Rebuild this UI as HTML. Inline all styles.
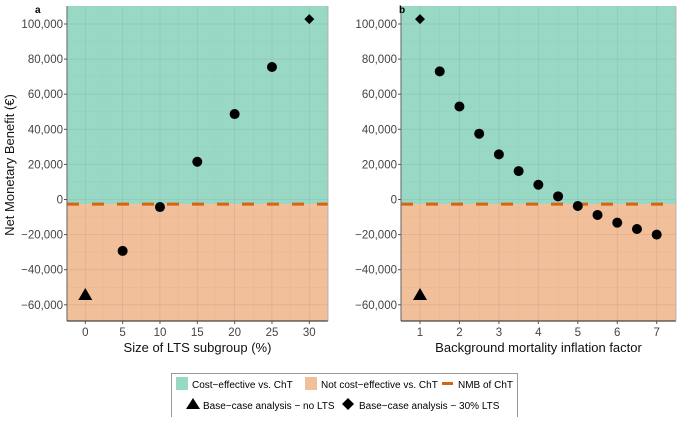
<!DOCTYPE html>
<html><head><meta charset="utf-8"><style>
body{margin:0;background:#fff;width:677px;height:417px;overflow:hidden}
svg{font-family:"Liberation Sans",sans-serif}
</style></head><body>
<svg id="c" width="677" height="417"></svg>
<script>
const ticksY=[100000,80000,60000,40000,20000,0,-20000,-40000,-60000];
const ticksXA=[0,5,10,15,20,25,30];
const ticksXB=[1,2,3,4,5,6,7];
const nmbChT=-2600;
const aX=[5,10,15,20,25];
const aY=[-29300,-4300,21500,48700,75500];
const bX=[1.5,2,2.5,3,3.5,4,4.5,5,5.5,6,6.5,7];
const bY=[73000,53000,37500,25700,16200,8400,1800,-3700,-8800,-13200,-16800,-20000];
const noLTS=-55000;
const lts30=102800;
const NS="http://www.w3.org/2000/svg";
const svg=document.getElementById('c');
function el(t,a,p){const e=document.createElementNS(NS,t);for(const k in a)e.setAttribute(k,a[k]);(p||svg).appendChild(e);return e;}
const yS=v=>199.5-v/20000*35.1;
const yTop=6,yBot=321;
function panel(name,x0,x1,sx,ticksX,lbl,title,pts,triX,diaX,lx){
  const g=el('g',{});
  
  
  const yb=yS(nmbChT);
  el('rect',{x:x0,y:yTop,width:x1-x0,height:yb-yTop,fill:'#98d8c4'},g);
  el('rect',{x:x0,y:yb,width:x1-x0,height:yBot-yb,fill:'#f1bf99'},g);
  for(const v of ticksY){el('line',{x1:x0,x2:x1,y1:yS(v),y2:yS(v),stroke:'#000',"stroke-opacity":0.07,"stroke-width":0.8},g);}
  for(let i=0;i<ticksY.length-1;i++){const v=(ticksY[i]+ticksY[i+1])/2;el('line',{x1:x0,x2:x1,y1:yS(v),y2:yS(v),stroke:'#000',"stroke-opacity":0.04,"stroke-width":0.5},g);}
  for(const t of ticksX){el('line',{x1:sx(t),x2:sx(t),y1:yTop,y2:yBot,stroke:'#000',"stroke-opacity":0.07,"stroke-width":0.8},g);}
  const step=ticksX[1]-ticksX[0];
  for(const t of ticksX){const m=t+step/2;if(sx(m)<x1)el('line',{x1:sx(m),x2:sx(m),y1:yTop,y2:yBot,stroke:'#000',"stroke-opacity":0.04,"stroke-width":0.5},g);}
  const d=el('line',{x1:x0,x2:x1,y1:yb,y2:yb,stroke:'#d5650f',"stroke-width":3,"stroke-dasharray":"12,13"},g);
  
  el('line',{x1:x0,x2:x0,y1:yTop,y2:yBot,stroke:'#777',"stroke-width":1.2},g);
  el('line',{x1:x0,x2:x1,y1:yBot,y2:yBot,stroke:'#444',"stroke-width":1.2},g);
  el('line',{x1:x1,x2:x1,y1:yTop,y2:yBot,stroke:'#aaa',"stroke-width":0.8},g);
  for(const v of ticksY){
    el('line',{x1:x0-3,x2:x0,y1:yS(v),y2:yS(v),stroke:'#555'},g);
    const t=el('text',{x:x0-4,y:yS(v)+4,"text-anchor":"end","font-size":11.5,fill:'#444'},g);
    t.textContent=v.toLocaleString('en-US').replace('-','\u2212');
  }
  for(const v of ticksX){
    el('line',{x1:sx(v),x2:sx(v),y1:yBot,y2:yBot+3,stroke:'#555'},g);
    const t=el('text',{x:sx(v),y:yBot+15,"text-anchor":"middle","font-size":11.5,fill:'#444'},g);t.textContent=v;
  }
  const tt=el('text',{x:(x0+x1)/2,y:yBot+31,"text-anchor":"middle","font-size":13,fill:'#111'},g);tt.textContent=title;
  
  const pl=el('text',{x:lx,y:13,"font-size":10,"font-weight":"bold"},g);pl.textContent=lbl;
  pts.x.forEach((xv,i)=>{const c=el('circle',{cx:sx(xv),cy:yS(pts.y[i]),r:5,fill:'#000'},g);
    
    });
  const tx=sx(triX),ty=yS(noLTS);
  const tri=el('polygon',{points:`${tx},${ty-8} ${tx-7},${ty+4} ${tx+7},${ty+4}`,fill:'#000'},g);
  
  const dx=sx(diaX),dy=yS(lts30);
  const dia=el('polygon',{points:`${dx},${dy-5} ${dx+5},${dy} ${dx},${dy+5} ${dx-5},${dy}`,fill:'#000'},g);
  
}
panel('a',67,328,v=>85.3+v*7.467,ticksXA,'a','Size of LTS subgroup (%)',{x:aX,y:aY},0,30,35);
panel('b',401,676,v=>420+(v-1)*39.45,ticksXB,'b','Background mortality inflation factor',{x:bX,y:bY},1,1,399);
const yt=el('text',{x:0,y:0,transform:'translate(14,165) rotate(-90)',"text-anchor":"middle","font-size":13,fill:'#111'});
yt.textContent='Net Monetary Benefit (€)';

const lg=el('g',{});


el('rect',{x:171.5,y:373.5,width:346,height:45,fill:'#fff',stroke:'#999'},lg);
el('rect',{x:176,y:377,width:12,height:13,fill:'#98d8c4'},lg);
let t=el('text',{x:192,y:388,"font-size":10},lg);t.textContent='Cost\u2212effective vs. ChT';
el('rect',{x:305,y:377,width:12,height:13,fill:'#f1bf99'},lg);
t=el('text',{x:321,y:388,"font-size":10},lg);t.textContent='Not cost\u2212effective vs. ChT';
el('line',{x1:442,x2:453,y1:383.5,y2:383.5,stroke:'#d5650f',"stroke-width":3},lg);
t=el('text',{x:458,y:388,"font-size":10},lg);t.textContent='NMB of ChT';
el('polygon',{points:'193,398 186,409 200,409',fill:'#000'},lg);
t=el('text',{x:203,y:409,"font-size":10},lg);t.textContent='Base\u2212case analysis \u2212 no LTS';
el('polygon',{points:'348,398 354,404 348,410 342,404',fill:'#000'},lg);
t=el('text',{x:359,y:409,"font-size":10},lg);t.textContent='Base\u2212case analysis \u2212 30% LTS';
</script>
</body></html>
